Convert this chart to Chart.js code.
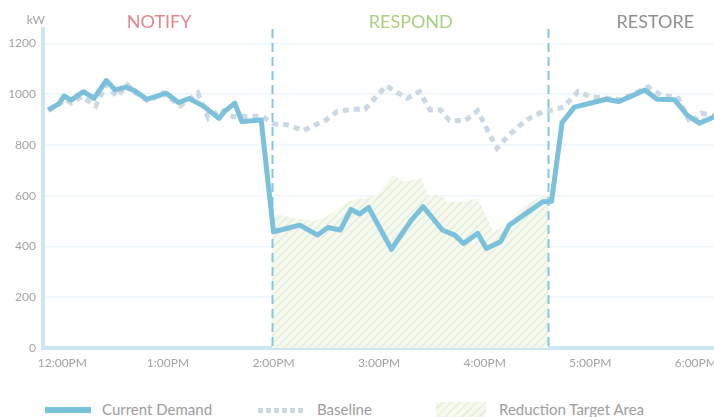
<!DOCTYPE html>
<html>
<head>
<meta charset="utf-8">
<script src="https://cdn.jsdelivr.net/npm/chart.js@4/dist/chart.umd.min.js"></script>
<style>
  html, body { margin: 0; padding: 0; background: #fff; overflow: hidden; }
  #wrap { position: relative; width: 714px; height: 417px; overflow: hidden; font-family: Lato, sans-serif; }
  #chart { position: absolute; left: 0; top: 0; }
  .sw { position: absolute; }
  .lbl { position: absolute; top: 400px; font-size: 15px; color: #9d9d9d; line-height: 18px; white-space: nowrap; }
</style>
</head>
<body>
<div id="wrap">
  <canvas id="chart" width="732" height="380"></canvas>
  <div class="sw" style="left:45px;top:407px;width:46px;height:6px;background:#7bc1dc"></div>
  <div class="lbl" style="left:102px">Current Demand</div>
  <div class="sw" style="left:258px;top:408px;width:48px;height:5px;background:repeating-linear-gradient(90deg,#cdd8e5 0 5px,transparent 5px 8px)"></div>
  <div class="lbl" style="left:317px">Baseline</div>
  <div class="sw" style="left:436px;top:402px;width:50px;height:20px;background:repeating-linear-gradient(135deg,#f5f9ef 0 4px,#e7f0db 4px 6px)"></div>
  <div class="lbl" style="left:499px">Reduction Target Area</div>
</div>
<script>
// minutes after 12:00PM
const demandTimes = [-8, -2, 1, 5, 12, 18, 25, 30, 36, 41, 48, 59, 66, 72, 80, 89, 92, 98, 102, 113,
  120, 135, 145, 151, 158, 164, 169, 174, 187, 198, 205, 216, 223, 228, 236, 241, 249, 254, 273, 278,
  284, 291, 309, 316, 323, 331, 338, 348, 355, 362, 371];
const demandKW = [938, 962, 993, 977, 1010, 984, 1054, 1017, 1028, 1014, 980, 1004, 967, 983, 954, 905, 931, 965, 892, 898,
  458, 484, 445, 475, 465, 546, 528, 554, 389, 501, 557, 465, 445, 412, 452, 392, 419, 484, 576, 578,
  888, 949, 980, 971, 991, 1017, 980, 978, 918, 886, 912];

const baselineTimes = [-8, 2, 5, 11, 19, 25, 31, 37, 42, 49, 57, 67, 77, 83, 90, 97, 105, 113,
  120, 128, 137, 150, 156, 165, 172, 184, 196, 203, 209, 215, 220, 229, 236, 242, 247, 253, 259, 266, 273, 279,
  285, 293, 300, 317, 333, 340, 350, 357, 363, 371];
const baselineKW = [935, 978, 965, 991, 954, 1037, 991, 1037, 1004, 971, 1006, 954, 1004, 905, 941, 912, 912, 914,
  883, 879, 857, 899, 931, 941, 941, 1033, 984, 1010, 938, 938, 896, 896, 935, 853, 787, 833, 872, 908, 931, 938,
  950, 1010, 991, 978, 1028, 997, 984, 886, 925, 915];

const targetTimes = [119, 128, 135, 143, 150, 162, 179, 188, 194, 204, 208, 215, 219, 228, 236, 245, 253, 262, 270, 276];
const targetKW = [530, 517, 507, 501, 517, 576, 603, 682, 655, 669, 603, 603, 576, 576, 590, 458, 491, 557, 590, 603];

const hourTicks = [0, 60, 120, 180, 240, 300, 360];
const hourLabels = ["12:00PM", "1:00PM", "2:00PM", "3:00PM", "4:00PM", "5:00PM", "6:00PM"];
const kwTicks = [0, 200, 400, 600, 800, 1000, 1200];

const phaseNames = ["NOTIFY", "RESPOND", "RESTORE"];
const phaseNameTimes = [55, 198, 337];
const phaseColors = ["#e0878c", "#a9d07f", "#8f8f8f"];
const phaseBreaks = [119, 276];

const AXIS = "#cde6f2";
const TICK = "#a3a3a3";

function pts(times, vals) {
  return times.map((t, i) => ({ x: t, y: vals[i] }));
}

function hatch() {
  const c = document.createElement("canvas");
  c.width = c.height = 8;
  const g = c.getContext("2d");
  g.fillStyle = "#f5f9ef";
  g.fillRect(0, 0, 8, 8);
  g.strokeStyle = "#e6efda";
  g.lineWidth = 1.6;
  g.beginPath();
  g.moveTo(0, 8); g.lineTo(8, 0);
  g.moveTo(-2, 2); g.lineTo(2, -2);
  g.moveTo(6, 10); g.lineTo(10, 6);
  g.stroke();
  return g.createPattern(c, "repeat");
}

const phases = {
  id: "phases",
  afterDatasetDraw(chart, args) {
    if (args.index !== 2) return;
    const { ctx, chartArea: a, scales: { x } } = chart;
    ctx.save();
    ctx.strokeStyle = "#88c6de";
    ctx.lineWidth = 2;
    ctx.setLineDash([9, 5]);
    phaseBreaks.forEach(t => {
      const px = Math.round(x.getPixelForValue(t)) + 0.5;
      ctx.beginPath();
      ctx.moveTo(px, a.top);
      ctx.lineTo(px, a.bottom);
      ctx.stroke();
    });
    ctx.restore();
  },
  afterDraw(chart) {
    const { ctx, scales: { x } } = chart;
    ctx.save();
    ctx.font = "18px Lato";
    ctx.textAlign = "center";
    ctx.textBaseline = "middle";
    phaseNames.forEach((s, i) => {
      ctx.fillStyle = phaseColors[i];
      ctx.fillText(s, x.getPixelForValue(phaseNameTimes[i]), 22);
    });
    ctx.font = "12px Lato";
    ctx.fillStyle = TICK;
    ctx.textAlign = "right";
    ctx.fillText("kW", 45, 20);
    ctx.restore();
  }
};

new Chart(document.getElementById("chart"), {
  type: "line",
  data: {
    datasets: [
      { label: "Current Demand", data: pts(demandTimes, demandKW), borderColor: "#7bc1dc", borderWidth: 5,
        borderJoinStyle: "round", pointRadius: 0, tension: 0, fill: false, order: 0 },
      { label: "Baseline", data: pts(baselineTimes, baselineKW), borderColor: "#cdd8e5", borderWidth: 5,
        borderDash: [6, 5], pointRadius: 0, tension: 0, fill: false, order: 1 },
      { label: "Reduction Target Area", data: pts(targetTimes, targetKW), borderWidth: 0, borderColor: "rgba(0,0,0,0)",
        backgroundColor: hatch(), pointRadius: 0, tension: 0, fill: "origin", order: 2 },
    ],
  },
  options: {
    responsive: false,
    animation: false,
    layout: { padding: { top: 29, right: 1, left: 0, bottom: 0 } },
    plugins: { legend: { display: false }, tooltip: { enabled: false } },
    scales: {
      x: {
        type: "linear", min: -11, max: 380,
        afterBuildTicks: s => { s.ticks = hourTicks.map(v => ({ value: v })); },
        afterFit: s => { s.height = 32; },
        grid: { color: "rgba(0,0,0,0)", drawTicks: false },
        border: { color: AXIS, width: 4 },
        ticks: { callback: (v, i) => hourLabels[i], color: TICK, font: { family: "Lato", size: 12 },
          padding: 8, maxRotation: 0, autoSkip: false },
      },
      y: {
        min: 0, max: 1257,
        afterBuildTicks: s => { s.ticks = kwTicks.map(v => ({ value: v })); },
        afterFit: s => { s.width = 43; },
        grid: { color: "#edf5fa", lineWidth: 1.5, drawTicks: false },
        border: { color: AXIS, width: 4 },
        ticks: { callback: v => String(v), color: TICK, font: { family: "Lato", size: 12 }, padding: 7 },
      },
    },
  },
  plugins: [phases],
});
</script>
</body>
</html>
